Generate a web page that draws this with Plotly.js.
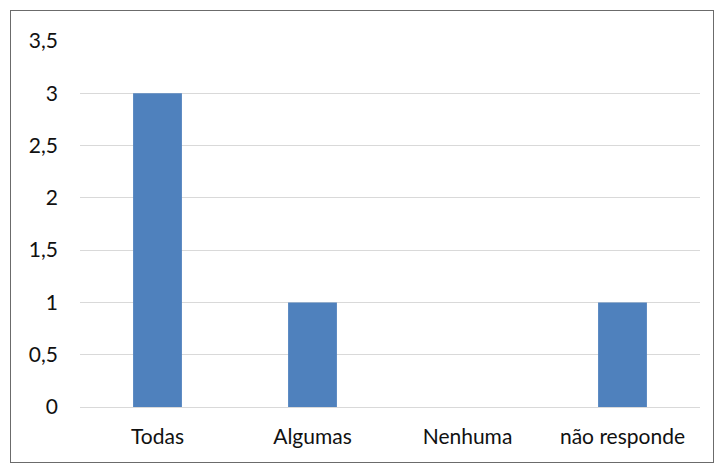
<!DOCTYPE html>
<html>
<head>
<meta charset="utf-8">
<script src="https://cdn.plot.ly/plotly-3.0.1.min.js"></script>
<style>
  html, body { margin: 0; padding: 0; background: #fff; }
  #wrap { position: relative; width: 718px; height: 464px; }
  #chart { position: absolute; left: 0; top: 0; width: 718px; height: 464px; }
  #frame { position: absolute; left: 10px; top: 10px; width: 702px; height: 451px;
           border: 1px solid #6b6b6b; pointer-events: none; }
</style>
</head>
<body>
<div id="wrap">
  <div id="chart"></div>
  <div id="frame"></div>
</div>
<script>
const categories = ["Todas", "Algumas", "Nenhuma", "não responde"];
const values = [3, 1, 0, 1];
const yTicks = [0, 0.5, 1, 1.5, 2, 2.5, 3, 3.5];

const trace = {
  type: "bar",
  x: categories,
  y: values,
  marker: { color: "#4f81bd" },
  hoverinfo: "none"
};

const layout = {
  width: 718,
  height: 464,
  margin: { l: 80, r: 18, t: 41, b: 57 },
  paper_bgcolor: "#ffffff",
  plot_bgcolor: "#ffffff",
  separators: ",.",
  showlegend: false,
  bargap: 0.685,
  font: { family: "Lato, 'Liberation Sans', sans-serif", size: 21, color: "#111111" },
  xaxis: {
    type: "category",
    showgrid: false,
    showline: false,
    ticks: "",
    ticklabelstandoff: 15,
    tickfont: { size: 21, color: "#111111" }
  },
  yaxis: {
    range: [0, 3.5],
    tickvals: yTicks,
    showgrid: true,
    gridcolor: "#d9d9d9",
    gridwidth: 1,
    zeroline: true,
    zerolinecolor: "#d9d9d9",
    zerolinewidth: 1,
    showline: false,
    ticks: "",
    ticklabelstandoff: 21,
    tickfont: { size: 21, color: "#111111" }
  }
};

Plotly.newPlot("chart", [trace], layout, { staticPlot: true, displayModeBar: false });
</script>
</body>
</html>
